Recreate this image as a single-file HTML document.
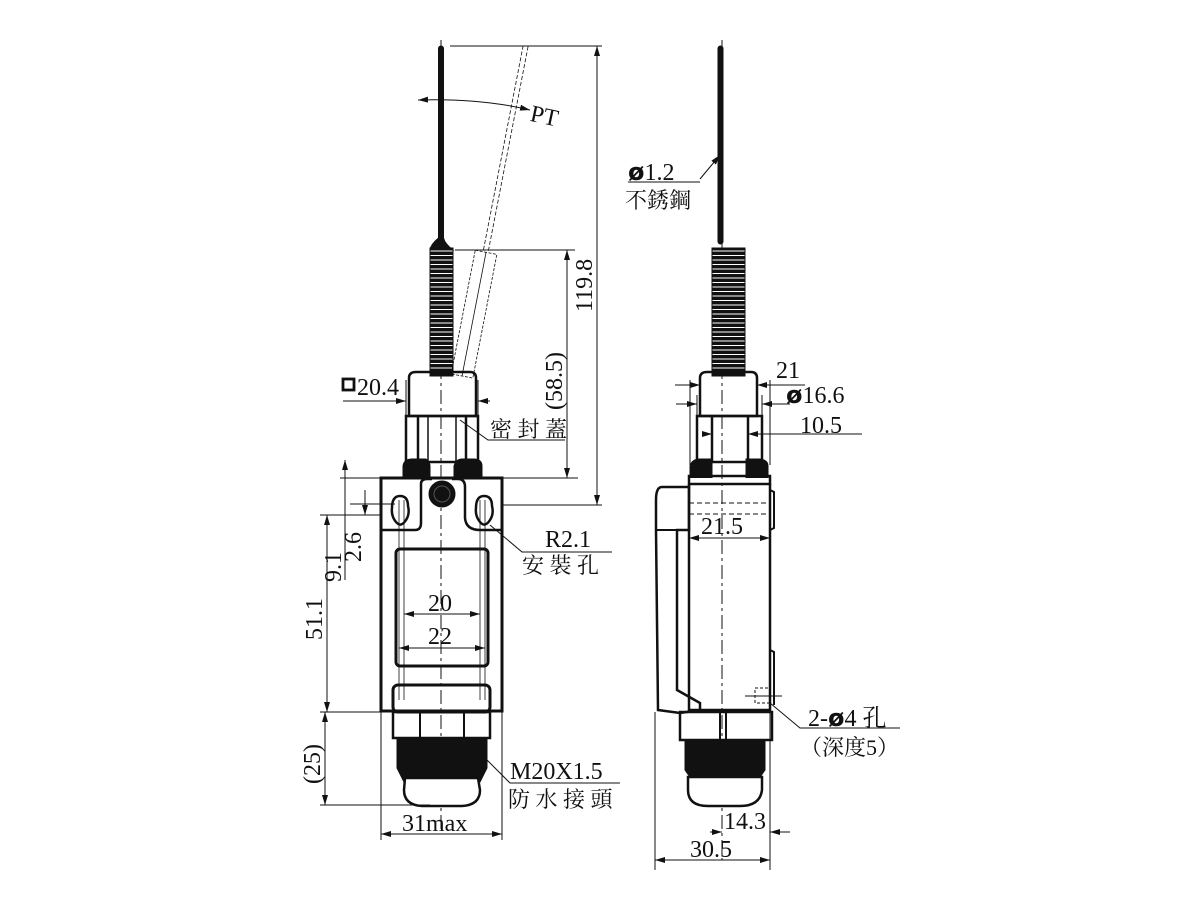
<!DOCTYPE html>
<html><head><meta charset="utf-8"><style>
html,body{margin:0;padding:0;background:#fff}
svg{display:block}
text{font-family:"Liberation Serif","Noto Serif CJK SC","Noto Sans CJK TC",serif;font-size:24px;fill:#111}
.c{font-size:22px}
</style></head><body>
<svg width="1200" height="900" viewBox="0 0 1200 900" xmlns="http://www.w3.org/2000/svg">
<defs>
<marker id="a" viewBox="0 0 10 6" refX="10" refY="3" markerWidth="10" markerHeight="6" orient="auto-start-reverse"><path d="M0,0 L10,3 L0,6 z" fill="#111"/></marker>
<pattern id="sp" width="10" height="4.5" patternUnits="userSpaceOnUse"><rect width="10" height="4.5" fill="#111"/><rect y="3" width="10" height="1" fill="#fff"/></pattern>
</defs>
<g stroke="#111" fill="none" stroke-width="1">
<!-- LEFT VIEW -->
<line x1="441" y1="40" x2="441" y2="830" stroke-dasharray="14,4,3,4"/>
<rect x="438.5" y="46" width="5" height="196" fill="#111" rx="2.5"/>
<path d="M438.5,238 Q431,244 430,250 L453,250 Q445,244 443.5,238" fill="#111"/>
<rect x="430" y="248" width="23" height="128" fill="url(#sp)"/>
<g transform="rotate(11 462 376)" stroke-width="0.8">
<rect x="451" y="250" width="22" height="126" stroke-dasharray="3,1.5"/>
<line x1="459" y1="40" x2="459" y2="250" stroke-dasharray="4,2"/>
<line x1="464" y1="40" x2="464" y2="250" stroke-dasharray="4,2"/>
<line x1="462" y1="250" x2="462" y2="376"/>
</g>
<path d="M409,378 Q409,372 416,372 L470,372 Q476,372 476,378 L476,416 L409,416 Z" stroke-width="2.5"/>
<rect x="406" y="416" width="72" height="46" stroke-width="2.5"/>
<line x1="418" y1="416" x2="418" y2="462" stroke-width="2.5"/>
<line x1="466" y1="416" x2="466" y2="462" stroke-width="2.5"/>
<line x1="428" y1="416" x2="428" y2="462" stroke-width="1.5"/>
<line x1="456" y1="416" x2="456" y2="462" stroke-width="1.5"/>
<path d="M403,478 L403,466 Q404,459 412,459 L426,459 Q430,462 430,466 L430,478 M454,478 L454,466 Q456,459 462,459 L475,459 Q482,460 482,466 L482,478" fill="#111"/>
<rect x="381" y="478" width="121" height="233" stroke-width="3"/>
<path d="M381,530 L415,530 Q421,530 421,523 L421,484 Q421,479 427,479 L432,479 M452,479 L458,479 Q465,479 465,487 L465,518 Q466,530 480,530 L502,530" stroke-width="2.5"/>
<circle cx="442" cy="494" r="13" fill="#111"/>
<circle cx="442" cy="494" r="8" stroke="#555"/>
<path d="M392,508 Q392,496 400,496 Q408,496 408,506 Q410,514 406,520 Q401,528 396,522 Q391,516 392,508Z" stroke-width="2.5"/>
<path d="M476,508 Q476,496 484,496 Q492,496 492,506 Q494,514 490,520 Q485,528 480,522 Q475,516 476,508Z" stroke-width="2.5"/>
<line x1="399" y1="500" x2="399" y2="700" stroke-width="0.8"/>
<line x1="404" y1="500" x2="404" y2="700" stroke-width="0.8"/>
<line x1="480" y1="500" x2="480" y2="700" stroke-width="0.8"/>
<line x1="485" y1="500" x2="485" y2="700" stroke-width="0.8"/>
<rect x="396" y="549" width="92" height="117" rx="4" stroke-width="3"/>
<rect x="393" y="685" width="97" height="27" rx="5" stroke-width="3"/>
<rect x="393" y="712" width="97" height="26" stroke-width="2.5"/>
<line x1="420" y1="712" x2="420" y2="738" stroke-width="2"/><line x1="464" y1="712" x2="464" y2="738" stroke-width="2"/>
<path d="M397,738 L487,738 L487,768 L480,782 L404,782 L397,768 Z" fill="#111"/>
<path d="M405,778 L478,778 L480,790 Q480,805 462,806 L422,806 Q404,805 404,790 Z" fill="#fff" stroke-width="2.5"/>
<line x1="450" y1="46" x2="602" y2="46"/>
<line x1="597" y1="46" x2="597" y2="505" marker-start="url(#a)" marker-end="url(#a)"/>
<line x1="455" y1="250" x2="575" y2="250"/>
<line x1="567" y1="250" x2="567" y2="478" marker-start="url(#a)" marker-end="url(#a)"/>
<line x1="502" y1="478" x2="578" y2="478"/>
<line x1="502" y1="505" x2="602" y2="505"/>
<path d="M418,100 Q480,98 530,110" marker-start="url(#a)" marker-end="url(#a)"/>
<line x1="343" y1="401" x2="406" y2="401" marker-end="url(#a)"/>
<line x1="478" y1="401" x2="490" y2="401" marker-start="url(#a)"/>
<line x1="406" y1="380" x2="406" y2="416"/><line x1="478" y1="380" x2="478" y2="416"/>
<path d="M460,420 L488,440 L565,440"/>
<path d="M490,525 L522,552 L612,552"/>
<line x1="340" y1="478" x2="381" y2="478"/>
<line x1="320" y1="515" x2="381" y2="515"/>
<line x1="350" y1="504" x2="395" y2="504"/>
<line x1="345" y1="460" x2="345" y2="580" marker-start="url(#a)"/>
<line x1="365" y1="490" x2="365" y2="515" marker-end="url(#a)"/>
<line x1="327" y1="515" x2="327" y2="712" marker-start="url(#a)" marker-end="url(#a)"/>
<line x1="320" y1="712" x2="393" y2="712"/>
<line x1="325" y1="712" x2="325" y2="805" marker-start="url(#a)" marker-end="url(#a)"/>
<line x1="320" y1="805" x2="430" y2="805"/>
<line x1="381" y1="712" x2="381" y2="840"/><line x1="502" y1="712" x2="502" y2="840"/>
<line x1="381" y1="834" x2="502" y2="834" marker-start="url(#a)" marker-end="url(#a)"/>
<line x1="404" y1="614" x2="480" y2="614" marker-start="url(#a)" marker-end="url(#a)"/>
<line x1="399" y1="648" x2="485" y2="648" marker-start="url(#a)" marker-end="url(#a)"/>
<path d="M487,760 L510,783 L620,783"/>

<!-- RIGHT VIEW -->
<line x1="722" y1="40" x2="722" y2="860" stroke-dasharray="14,4,3,4"/>
<rect x="718" y="46" width="5" height="198" fill="#111" rx="2.5"/>
<rect x="712" y="248" width="33" height="128" fill="url(#sp)"/>
<path d="M700,378 Q700,372 707,372 L751,372 Q757,372 757,378 L757,416 L700,416 Z" stroke-width="2.5"/>
<rect x="697" y="416" width="65" height="46" stroke-width="2.5"/>
<line x1="712" y1="416" x2="712" y2="462" stroke-width="2.5"/><line x1="748" y1="416" x2="748" y2="462" stroke-width="2.5"/>
<path d="M690,478 L690,466 Q692,459 700,459 L712,459 L712,478 M746,478 L746,459 L760,459 Q768,460 768,466 L768,478" fill="#111"/>
<rect x="689" y="476" width="81" height="8" stroke-width="2.5"/>
<path d="M689,484 L689,710 L770,710 L770,484" stroke-width="2.5"/>
<path d="M770,490 L774,492 L774,528 L770,530" stroke-width="2"/>
<path d="M770,650 L774,652 L774,705" stroke-width="2"/>
<line x1="689" y1="503" x2="770" y2="503" stroke-dasharray="5,3"/>
<line x1="689" y1="514" x2="770" y2="514" stroke-dasharray="5,3"/>
<path d="M662,487 L689,487 L689,530 L677,530 L677,690 L700,703 L700,710 L680,713 L658,710 L656,530 L656,500 Q656,487 662,487Z" stroke-width="2.5"/>
<line x1="656" y1="530" x2="677" y2="530" stroke-width="2"/>
<rect x="755" y="688" width="15" height="15" stroke-dasharray="3,2"/>
<line x1="745" y1="696" x2="782" y2="696"/>
<rect x="680" y="712" width="92" height="28" stroke-width="2.5"/>
<line x1="720" y1="712" x2="720" y2="740" stroke-width="2"/><line x1="726" y1="712" x2="726" y2="740" stroke-width="2"/>
<path d="M685,740 L765,740 L765,770 L758,780 L692,780 L685,770Z" fill="#111"/>
<path d="M688,777 L762,777 L762,790 Q760,806 740,806 L708,806 Q688,806 688,790Z" fill="#fff" stroke-width="2.5"/>
<line x1="675" y1="385" x2="700" y2="385" marker-end="url(#a)"/><line x1="757" y1="385" x2="805" y2="385" marker-start="url(#a)"/>
<line x1="690" y1="380" x2="690" y2="465"/><line x1="770" y1="380" x2="770" y2="465"/>
<line x1="676" y1="404" x2="697" y2="404" marker-end="url(#a)"/><line x1="762" y1="404" x2="790" y2="404" marker-start="url(#a)"/>
<line x1="697" y1="395" x2="697" y2="416"/><line x1="762" y1="395" x2="762" y2="416"/>
<line x1="705" y1="434" x2="712" y2="434" marker-end="url(#a)"/><line x1="748" y1="434" x2="862" y2="434" marker-start="url(#a)"/>
<line x1="689" y1="538" x2="770" y2="538" marker-start="url(#a)" marker-end="url(#a)"/>
<path d="M770,703 L800,728 L900,728"/>
<path d="M700,179 L720,155" marker-end="url(#a)"/>
<line x1="628" y1="182" x2="700" y2="182"/>
<line x1="770" y1="712" x2="770" y2="870"/>
<line x1="655" y1="712" x2="655" y2="870"/>
<line x1="710" y1="832" x2="722" y2="832" marker-end="url(#a)"/><line x1="770" y1="832" x2="790" y2="832" marker-start="url(#a)"/>
<line x1="655" y1="860" x2="770" y2="860" marker-start="url(#a)" marker-end="url(#a)"/>
</g>
<g stroke="none">
<text x="530" y="124" transform="rotate(12 545 118)">PT</text>
<text x="592" y="312" transform="rotate(-90 592 312)">119.8</text>
<text x="562" y="410" transform="rotate(-90 562 410)">(58.5)</text>
<rect x="343" y="379" width="11" height="11" fill="none" stroke="#111" stroke-width="2.8"/>
<text x="357" y="395">20.4</text>
<text x="490" y="437" class="c">密 封 蓋</text>
<text x="545" y="547">R2.1</text>
<text x="522" y="573" class="c">安 裝 孔</text>
<text x="428" y="611">20</text>
<text x="428" y="644">22</text>
<text x="510" y="779">M20X1.5</text>
<text x="508" y="807" class="c">防 水 接 頭</text>
<text x="402" y="831">31max</text>
<text x="322" y="640" transform="rotate(-90 322 640)">51.1</text>
<text x="341" y="582" transform="rotate(-90 341 582)">9.1</text>
<text x="361" y="562" transform="rotate(-90 361 562)">2.6</text>
<text x="320" y="784" transform="rotate(-90 320 784)">(25)</text>
<text x="628" y="180"><tspan style="font-weight:bold;font-family:'DejaVu Sans'">ø</tspan>1.2</text>
<text x="625" y="208" class="c">不銹鋼</text>
<text x="776" y="378">21</text>
<text x="786" y="403"><tspan style="font-weight:bold;font-family:'DejaVu Sans'">ø</tspan>16.6</text>
<text x="800" y="433">10.5</text>
<text x="701" y="534">21.5</text>
<text x="808" y="726">2-<tspan style="font-weight:bold;font-family:'DejaVu Sans'">ø</tspan>4 孔</text>
<text x="800" y="755" class="c">（深度5）</text>
<text x="724" y="829">14.3</text>
<text x="690" y="857">30.5</text>
</g>
</svg>
</body></html>
